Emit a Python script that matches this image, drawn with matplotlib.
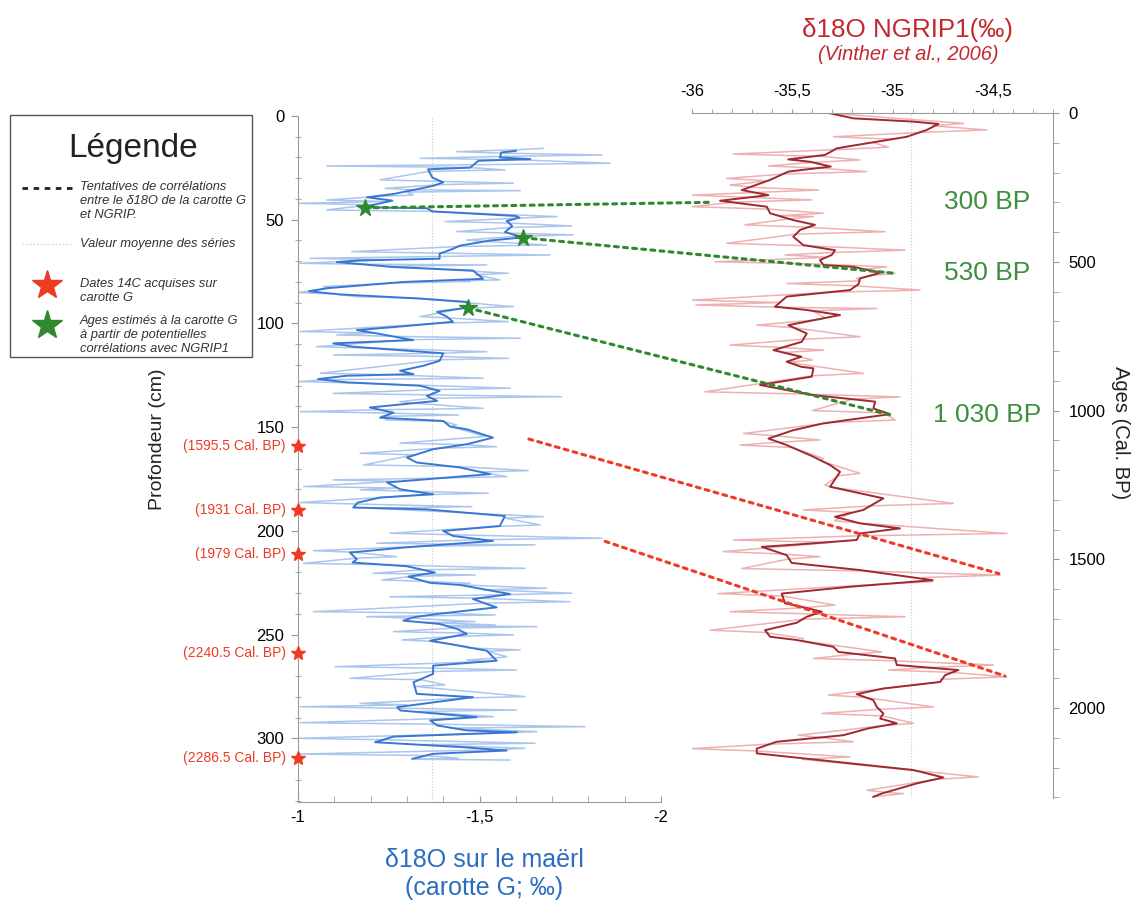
import matplotlib
matplotlib.use('Agg')
import matplotlib.pyplot as plt
from matplotlib.patches import ConnectionPatch, Rectangle
from matplotlib.lines import Line2D
from matplotlib.ticker import MultipleLocator

plt.rcParams['font.family'] = ['Liberation Sans', 'DejaVu Sans']

# carotte G : d18O sur le maerl (moyenne des series)
maerl_mean_depth = [16.8, 17.6, 20.0, 20.8, 21.6, 24.9, 25.7, 29.7, 32.0, 33.7, 35.3, 37.6, 39.2, 40.8,
                    43.2, 44.0, 44.5, 46.0, 48.2, 49.0, 50.6, 53.0, 56.0, 58.5, 60.0, 62.5, 64.0, 66.4,
                    68.8, 69.6, 70.4, 72.8, 74.5, 78.5, 80.0, 83.0, 84.5, 86.0, 88.0, 89.6, 92.3, 94.4,
                    96.7, 99.2, 101.6, 103.2, 104.8, 108.0, 109.6, 111.2, 114.4, 118.0, 120.4, 122.8,
                    124.4, 125.2, 126.8, 128.4, 130.0, 132.5, 134.9, 137.3, 140.5, 143.0, 145.4, 147.0,
                    149.7, 151.0, 155.0, 158.2, 160.6, 164.6, 167.0, 169.4, 172.6, 176.6, 179.9, 182.3,
                    183.9, 186.3, 188.7, 189.6, 192.8, 197.6, 200.0, 202.4, 204.8, 208.0, 210.4, 213.6,
                    215.2, 217.0, 220.0, 222.0, 225.0, 226.0, 230.4, 232.8, 235.2, 236.8, 240.0, 241.6,
                    243.2, 244.8, 247.2, 249.6, 252.9, 254.5, 257.7, 262.5, 264.9, 268.9, 272.9, 278.5,
                    280.1, 284.9, 286.5, 289.7, 291.3, 293.7, 296.1, 297.0, 299.1, 301.8, 304.2, 305.8,
                    307.4, 309.8]
maerl_mean_d18o = [-1.60, -1.56, -1.556, -1.64, -1.497, -1.474, -1.358, -1.37, -1.40, -1.372, -1.327,
                   -1.263, -1.19, -1.26, -1.198, -1.185, -1.355, -1.37, -1.60, -1.61, -1.575, -1.59,
                   -1.57, -1.62, -1.53, -1.446, -1.427, -1.39, -1.39, -1.171, -1.107, -1.263, -1.482,
                   -1.51, -1.29, -1.08, -1.03, -1.116, -1.336, -1.465, -1.468, -1.383, -1.41, -1.427,
                   -1.273, -1.162, -1.217, -1.317, -1.097, -1.152, -1.40, -1.39, -1.345, -1.281, -1.318,
                   -1.134, -1.055, -1.134, -1.336, -1.39, -1.355, -1.383, -1.198, -1.263, -1.226, -1.40,
                   -1.419, -1.465, -1.537, -1.465, -1.372, -1.30, -1.327, -1.446, -1.529, -1.245, -1.281,
                   -1.372, -1.226, -1.165, -1.152, -1.355, -1.57, -1.556, -1.40, -1.427, -1.537, -1.29,
                   -1.143, -1.162, -1.15, -1.30, -1.377, -1.304, -1.364, -1.446, -1.584, -1.482, -1.52,
                   -1.547, -1.383, -1.318, -1.29, -1.39, -1.438, -1.465, -1.364, -1.419, -1.52, -1.547,
                   -1.372, -1.372, -1.318, -1.327, -1.482, -1.273, -1.282, -1.492, -1.364, -1.383,
                   -1.465, -1.603, -1.263, -1.212, -1.455, -1.575, -1.372, -1.315]

# carotte G : series individuelles (pics et retours)
maerl_raw_depth = [15.6, 16.3, 17.2, 17.9, 18.8, 19.5, 20.4, 21.1, 22.8, 23.5, 24.1, 24.8, 26.0, 26.7,
                   30.8, 31.5, 32.4, 33.1, 34.9, 35.6, 36.0, 36.7, 38.1, 38.8, 40.5, 41.2, 42.1, 42.8,
                   45.3, 46.0, 48.5, 49.2, 50.9, 51.6, 53.0, 53.7, 55.7, 56.4, 57.3, 58.0, 59.8, 60.5,
                   62.2, 62.9, 65.4, 66.1, 67.0, 67.7, 68.6, 69.3, 71.0, 71.4, 71.8, 72.5, 75.8, 76.5,
                   79.0, 79.4, 79.8, 80.5, 82.2, 82.9, 85.1, 85.8, 87.1, 87.8, 91.9, 92.6, 96.7, 97.4,
                   99.1, 99.8, 103.9, 104.6, 105.5, 106.2, 107.1, 107.8, 111.2, 111.9, 113.6, 114.3,
                   115.2, 115.9, 116.8, 117.5, 124.0, 124.7, 126.4, 127.1, 128.0, 128.7, 131.2, 131.9,
                   133.7, 134.4, 135.3, 136.0, 137.7, 138.4, 140.9, 141.6, 142.5, 143.2, 144.1, 144.8,
                   146.5, 147.2, 148.9, 149.6, 153.7, 154.4, 157.7, 158.4, 159.4, 160.1, 162.6, 163.3,
                   168.2, 168.9, 170.9, 171.6, 173.8, 174.5, 175.4, 176.1, 178.6, 179.3, 180.2, 180.9,
                   181.8, 182.5, 186.3, 187.0, 188.3, 189.0, 193.1, 193.8, 197.1, 197.8, 201.1, 201.8,
                   203.5, 204.2, 205.9, 206.3, 206.7, 207.4, 209.5, 210.2, 212.4, 213.1, 215.6, 216.3,
                   218.0, 218.7, 220.4, 220.8, 221.2, 221.9, 223.6, 224.3, 225.2, 225.9, 227.6, 228.3,
                   230.0, 230.7, 231.7, 232.4, 234.1, 234.8, 238.9, 239.6, 240.5, 240.9, 241.3, 242.0,
                   243.7, 244.1, 245.3, 245.7, 246.1, 246.8, 248.5, 249.2, 250.1, 250.8, 252.5, 253.2,
                   255.7, 256.4, 257.3, 258.0, 260.6, 261.3, 262.2, 262.9, 265.4, 266.1, 267.0, 267.7,
                   271.0, 271.7, 274.2, 274.9, 279.8, 280.5, 283.1, 283.8, 284.7, 285.4, 286.3, 287.0,
                   289.5, 290.2, 292.4, 293.1, 294.3, 295.0, 296.7, 297.4, 299.9, 300.6, 302.3, 303.0,
                   304.7, 305.4, 307.5, 308.2, 309.5, 310.0, 310.4]
maerl_raw_d18o = [-1.676, -1.60, -1.437, -1.56, -1.837, -1.56, -1.336, -1.60, -1.86, -1.49, -1.079, -1.47,
                  -1.57, -1.36, -1.226, -1.39, -1.593, -1.39, -1.24, -1.32, -1.612, -1.30, -1.318, -1.22,
                  -1.079, -1.24, -1.0, -1.20, -1.079, -1.37, -1.713, -1.61, -1.405, -1.58, -1.754, -1.59,
                  -1.437, -1.57, -1.758, -1.60, -1.465, -1.52, -1.685, -1.44, -1.148, -1.40, -1.694,
                  -1.39, -1.033, -1.25, -1.0, -1.15, -1.52, -1.24, -1.579, -1.49, -1.556, -1.45, -1.474,
                  -1.27, -1.07, -1.09, -1.0, -1.10, -1.162, -1.32, -1.593, -1.46, -1.336, -1.42, -1.579,
                  -1.40, -1.006, -1.21, -1.107, -1.26, -1.612, -1.31, -1.051, -1.20, -1.52, -1.40,
                  -1.097, -1.39, -1.579, -1.39, -1.061, -1.25, -1.51, -1.08, -1.0, -1.16, -1.584, -1.37,
                  -1.097, -1.36, -1.726, -1.37, -1.281, -1.32, -1.51, -1.22, -1.006, -1.26, -1.442,
                  -1.23, -1.244, -1.40, -1.437, -1.42, -1.501, -1.52, -1.281, -1.46, -1.547, -1.39,
                  -1.171, -1.32, -1.18, -1.44, -1.634, -1.50, -1.575, -1.40, -1.097, -1.27, -1.015,
                  -1.27, -1.171, -1.32, -1.524, -1.35, -1.006, -1.16, -1.479, -1.20, -1.676, -1.57,
                  -1.667, -1.55, -1.253, -1.42, -1.837, -1.50, -1.217, -1.40, -1.653, -1.33, -1.042,
                  -1.15, -1.272, -1.16, -1.015, -1.24, -1.625, -1.34, -1.207, -1.37, -1.488, -1.31,
                  -1.231, -1.35, -1.474, -1.44, -1.685, -1.51, -1.754, -1.57, -1.253, -1.50, -1.749,
                  -1.51, -1.042, -1.40, -1.543, -1.35, -1.189, -1.31, -1.488, -1.35, -1.543, -1.41,
                  -1.658, -1.43, -1.263, -1.46, -1.593, -1.43, -1.286, -1.37, -1.465, -1.47, -1.612,
                  -1.52, -1.575, -1.54, -1.465, -1.52, -1.102, -1.37, -1.602, -1.37, -1.143, -1.34,
                  -1.405, -1.32, -1.625, -1.46, -1.171, -1.30, -1.006, -1.27, -1.602, -1.33, -1.538,
                  -1.43, -1.006, -1.38, -1.791, -1.42, -1.658, -1.55, -1.001, -1.23, -1.653, -1.34,
                  -1.625, -1.55, -1.006, -1.35, -1.442, -1.32, -1.584]
maerl_avg = -1.37

# NGRIP1 (Vinther et al., 2006)
ngrip_mean_age = [1, 18, 29, 37, 57, 80, 113, 119, 141, 156, 164, 180, 197, 225, 259, 276, 295, 315,
                  337, 360, 376, 393, 416, 444, 461, 477, 494, 511, 517, 537, 556, 575, 595, 617, 651,
                  662, 679, 713, 741, 769, 797, 819, 836, 853, 858, 886, 914, 948, 970, 993, 1012, 1043,
                  1066, 1094, 1116, 1155, 1183, 1206, 1256, 1273, 1295, 1334, 1357, 1379, 1396, 1413,
                  1435, 1449, 1458, 1486, 1512, 1536, 1570, 1592, 1615, 1648, 1659, 1676, 1693, 1713,
                  1738, 1760, 1771, 1794, 1811, 1833, 1855, 1872, 1889, 1912, 1934, 1953, 1973, 1996,
                  2018, 2035, 2051, 2068, 2091, 2113, 2136, 2152, 2208, 2233, 2253, 2287, 2298]
ngrip_mean_d18o = [-35.312, -35.196, -34.896, -34.771, -34.83, -34.929, -35.228, -35.278, -35.337,
                   -35.52, -35.411, -35.308, -35.52, -35.611, -35.752, -35.619, -35.86, -35.627,
                   -35.611, -35.495, -35.387, -35.461, -35.495, -35.445, -35.287, -35.303, -35.362,
                   -35.345, -35.196, -35.062, -35.162, -35.17, -35.212, -35.528, -35.586, -35.428,
                   -35.262, -35.52, -35.428, -35.453, -35.594, -35.455, -35.528, -35.455, -35.395,
                   -35.403, -35.661, -35.395, -35.087, -35.096, -35.012, -35.345, -35.495, -35.619,
                   -35.528, -35.395, -35.312, -35.262, -35.312, -35.196, -35.046, -35.146, -35.287,
                   -35.162, -34.963, -35.162, -35.179, -35.455, -35.652, -35.528, -35.503, -35.162,
                   -34.80, -35.212, -35.553, -35.536, -35.455, -35.353, -35.428, -35.478, -35.636,
                   -35.611, -35.478, -35.295, -35.27, -34.988, -34.979, -34.672, -34.738, -34.763,
                   -35.046, -35.179, -35.096, -35.079, -35.046, -35.062, -34.979, -35.121, -35.246,
                   -35.578, -35.677, -35.677, -34.896, -34.747, -34.88, -35.054, -35.096]
ngrip_raw_age = [0, 35, 43, 57, 65, 80, 88, 91, 99, 115, 123, 138, 146, 158, 166, 178, 186, 197, 205,
                 220, 228, 242, 250, 259, 267, 276, 284, 292, 300, 315, 323, 337, 345, 348, 356, 376,
                 384, 399, 407, 438, 446, 461, 469, 477, 485, 500, 508, 517, 525, 539, 547, 556, 564,
                 573, 581, 595, 603, 629, 637, 645, 653, 657, 665, 685, 693, 713, 721, 752, 760, 780,
                 788, 797, 805, 830, 838, 875, 883, 937, 945, 954, 962, 1000, 1008, 1032, 1040, 1077,
                 1085, 1099, 1107, 1116, 1124, 1161, 1169, 1211, 1219, 1250, 1258, 1312, 1320, 1334,
                 1342, 1370, 1378, 1413, 1421, 1435, 1443, 1474, 1482, 1491, 1499, 1531, 1539, 1553,
                 1561, 1575, 1583, 1615, 1623, 1654, 1662, 1676, 1684, 1693, 1701, 1738, 1746, 1766,
                 1774, 1811, 1819, 1833, 1841, 1855, 1863, 1872, 1880, 1895, 1903, 1912, 1956, 1964,
                 1996, 2004, 2018, 2026, 2051, 2059, 2091, 2099, 2113, 2121, 2136, 2144, 2164, 2172,
                 2231, 2239, 2276, 2284, 2287, 2298]
ngrip_raw_d18o = [-35.33, -34.647, -34.80, -34.53, -34.85, -35.295, -35.0, -35.029, -35.10, -35.02,
                  -35.28, -35.794, -35.35, -35.162, -35.40, -35.619, -35.35, -35.129, -35.54, -35.827,
                  -35.62, -35.81, -35.70, -35.37, -35.68, -36.0, -35.70, -35.403, -35.80, -36.0,
                  -35.62, -35.345, -35.56, -35.395, -35.52, -35.736, -35.42, -35.037, -35.48, -35.827,
                  -35.44, -34.938, -35.30, -35.536, -35.33, -35.885, -35.35, -35.029, -35.14, -34.988,
                  -35.11, -35.179, -35.16, -35.528, -35.18, -34.863, -35.33, -36.0, -35.56, -35.98,
                  -35.55, -35.079, -35.40, -35.345, -35.35, -35.677, -35.50, -35.162, -35.44, -35.81,
                  -35.55, -35.345, -35.55, -35.40, -35.52, -35.146, -35.40, -35.935, -35.42, -34.963,
                  -35.20, -35.40, -35.04, -34.988, -35.30, -35.744, -35.58, -35.362, -35.58, -35.761,
                  -35.50, -35.345, -35.36, -35.162, -35.27, -35.337, -35.30, -34.697, -35.10, -35.445,
                  -35.20, -35.29, -35.17, -34.43, -35.17, -35.794, -35.30, -35.844, -35.55, -35.362,
                  -35.52, -35.752, -35.15, -34.464, -34.85, -34.80, -35.05, -35.869, -35.55, -35.287,
                  -35.43, -35.81, -35.38, -34.938, -35.44, -35.91, -35.63, -35.445, -35.45, -35.054,
                  -35.20, -35.395, -34.99, -34.497, -34.80, -35.02, -34.70, -34.43, -34.76, -34.76,
                  -35.32, -35.14, -34.796, -35.07, -35.353, -35.05, -34.896, -35.05, -35.47, -35.35,
                  -35.196, -35.62, -36.0, -35.68, -35.212, -35.45, -34.572, -34.78, -35.129, -35.02,
                  -34.946, -35.096]
ngrip_avg = -34.91

# dates 14C sur la carotte G
dates_14c_depth = [159, 190, 211, 258.8, 309.4]
dates_14c_labels = ['(1595.5 Cal. BP)', '(1931 Cal. BP)', '(1979 Cal. BP)',
                    '(2240.5 Cal. BP)', '(2286.5 Cal. BP)']

# correlations G <-> NGRIP
green_depth = [44.3, 58.7, 92.5]
green_d18o = [-1.185, -1.62, -1.468]
green_age = [300, 538, 1015]
green_ngrip = [-35.9, -35.0, -35.01]
green_labels = ['300 BP', '530 BP', '1 030 BP']

red_depth = [155.7, 205]
red_d18o = [-1.636, -1.846]
red_age = [1548, 1892]
red_ngrip = [-34.47, -34.44]

maerl_ticks = [-1, -1.5, -2]
maerl_ticklabels = ['-1', '-1,5', '-2']
ngrip_ticks = [-36, -35.5, -35, -34.5]
ngrip_ticklabels = ['-36', '-35,5', '-35', '-34,5']

blue = '#3a77d2'
light_blue = '#abc6ec'
dark_red = '#9e2a2f'
light_red = '#eeb0b2'
green = '#2f8a2f'
red = '#ee3b24'
axis_grey = '#9a9a9a'

fig = plt.figure(figsize=(11.35, 9.01), dpi=100)

# ---- left panel: carotte G
ax1 = fig.add_axes([0.2626, 0.1099, 0.3198, 0.7614])
ax1.axvline(maerl_avg, color='#c8c8c8', lw=0.8, ls=':')
ax1.plot(maerl_raw_d18o, maerl_raw_depth, color=light_blue, lw=1.1)
ax1.plot(maerl_mean_d18o, maerl_mean_depth, color=blue, lw=1.4)
ax1.set_xlim(-1, -2)
ax1.set_ylim(330.6, 0)
ax1.set_xticks(maerl_ticks)
ax1.set_xticklabels(maerl_ticklabels)
ax1.set_yticks([0, 50, 100, 150, 200, 250, 300])
ax1.xaxis.set_minor_locator(MultipleLocator(0.1))
ax1.yaxis.set_minor_locator(MultipleLocator(10))
ax1.tick_params(axis='x', which='both', direction='in', length=4, color=axis_grey, labelsize=12, pad=6)
ax1.tick_params(axis='y', which='major', direction='out', length=5, color=axis_grey, labelsize=12, pad=5)
ax1.tick_params(axis='y', which='minor', direction='inout', length=5, color=axis_grey)
for s in ['top', 'right']:
    ax1.spines[s].set_visible(False)
for s in ['left', 'bottom']:
    ax1.spines[s].set_color(axis_grey)
ax1.patch.set_alpha(0)

for d, lab in zip(dates_14c_depth, dates_14c_labels):
    ax1.plot(-1, d, marker='*', color=red, markersize=10, clip_on=False, zorder=5)
    ax1.annotate(lab, (-1, d), xytext=(-9, 0), textcoords='offset points', ha='right', va='center',
                 color=red, fontsize=10, annotation_clip=False)

ax1.plot(green_d18o, green_depth, ls='none', marker='*', color=green, markersize=13, zorder=5)

# ---- right panel: NGRIP1
ax2 = fig.add_axes([0.6097, 0.1143, 0.3181, 0.7603])
ax2.axvline(ngrip_avg, color='#c8c8c8', lw=0.8, ls=':')
ax2.plot(ngrip_raw_d18o, ngrip_raw_age, color=light_red, lw=1.1)
ax2.plot(ngrip_mean_d18o, ngrip_mean_age, color=dark_red, lw=1.4)
ax2.set_xlim(-36, -34.2)
ax2.set_ylim(2302, 0)
ax2.xaxis.tick_top()
ax2.yaxis.tick_right()
ax2.set_xticks(ngrip_ticks)
ax2.set_xticklabels(ngrip_ticklabels)
ax2.set_yticks([0, 500, 1000, 1500, 2000])
ax2.xaxis.set_minor_locator(MultipleLocator(0.1))
ax2.yaxis.set_minor_locator(MultipleLocator(100))
ax2.tick_params(axis='x', which='both', direction='out', length=3, color=axis_grey, labelsize=12, pad=7)
ax2.tick_params(axis='y', which='both', direction='out', length=4, color=axis_grey, labelsize=12, pad=7)
for s in ['left', 'bottom']:
    ax2.spines[s].set_visible(False)
for s in ['top', 'right']:
    ax2.spines[s].set_color(axis_grey)
ax2.patch.set_alpha(0)

for a, lab in zip(green_age, green_labels):
    ax2.text(-34.53, a, lab, color='#3d8f3d', fontsize=19, ha='center', va='center')

# correlation lines between the two cores
for d, x, a, xn in zip(green_depth, green_d18o, green_age, green_ngrip):
    con = ConnectionPatch(xyA=(x, d), coordsA=ax1.transData, xyB=(xn, a), coordsB=ax2.transData,
                          color=green, lw=2.2, linestyle=(0, (1.3, 1.7)), zorder=6)
    fig.add_artist(con)
for d, x, a, xn in zip(red_depth, red_d18o, red_age, red_ngrip):
    con = ConnectionPatch(xyA=(x, d), coordsA=ax1.transData, xyB=(xn, a), coordsB=ax2.transData,
                          color=red, lw=2.2, linestyle=(0, (1.3, 1.7)), zorder=6)
    fig.add_artist(con)

# titles and axis labels
fig.text(0.800, 0.967, 'δ18O NGRIP1(‰)', color='#c3282e', fontsize=18.7, ha='center', va='center')
fig.text(0.800, 0.939, '(Vinther et al., 2006)', color='#c3282e', fontsize=14.4, style='italic',
         ha='center', va='center')
fig.text(0.4264, 0.0455, 'δ18O sur le maërl', color='#2c6dc0', fontsize=18, ha='center', va='center')
fig.text(0.4264, 0.0144, '(carotte G; ‰)', color='#2c6dc0', fontsize=18, ha='center', va='center')
fig.text(0.139, 0.512, 'Profondeur (cm)', rotation=90, fontsize=14, ha='center', va='center', color='#222')
fig.text(0.987, 0.52, 'Ages (Cal. BP)', rotation=270, fontsize=14.5, ha='center', va='center', color='#222')

# legend box
fig.add_artist(Rectangle((10 / 1135, 1 - 357 / 901), 242 / 1135, 242 / 901, transform=fig.transFigure,
                         fill=False, ec='#555555', lw=1))
fig.text(0.1172, 0.8357, 'Légende', fontsize=24, ha='center', va='center', color='#222')
fig.add_artist(Line2D([22 / 1135, 75 / 1135], [0.7913, 0.7913], transform=fig.transFigure,
                      color='#222', lw=2, ls=(0, (2, 2))))
fig.text(0.0705, 0.7990, 'Tentatives de corrélations\nentre le δ18O de la carotte G\net NGRIP.',
         fontsize=9.3, style='italic', color='#333', ha='left', va='top', linespacing=1.22)
fig.add_artist(Line2D([22 / 1135, 72 / 1135], [0.7292, 0.7292], transform=fig.transFigure,
                      color='#d5d5d5', lw=1, ls=':'))
fig.text(0.0705, 0.7292, 'Valeur moyenne des séries', fontsize=9.3, style='italic', color='#333',
         ha='left', va='center')
fig.add_artist(Line2D([47 / 1135], [0.6837], transform=fig.transFigure, marker='*', ms=22,
                      color=red, ls='none'))
fig.text(0.0705, 0.6915, 'Dates 14C acquises sur\ncarotte G', fontsize=9.3, style='italic', color='#333',
         ha='left', va='top', linespacing=1.22)
fig.add_artist(Line2D([47 / 1135], [0.6393], transform=fig.transFigure, marker='*', ms=22,
                      color=green, ls='none'))
fig.text(0.0705, 0.6505, 'Ages estimés à la carotte G\nà partir de potentielles\ncorrélations avec NGRIP1',
         fontsize=9.3, style='italic', color='#333', ha='left', va='top', linespacing=1.22)

fig.savefig('out.png', dpi=100)
